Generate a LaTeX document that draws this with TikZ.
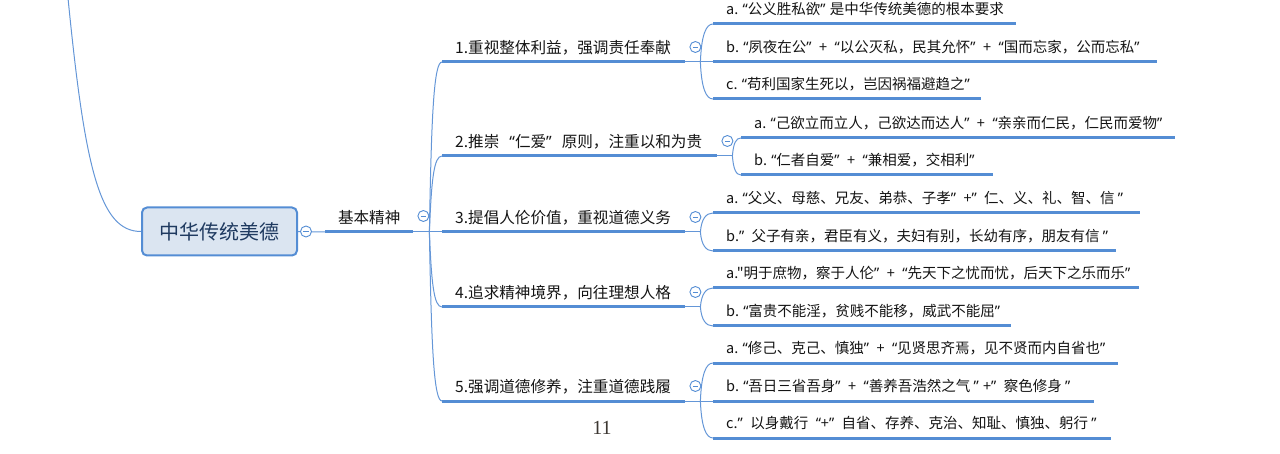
\documentclass[tikz,border=0pt]{standalone}
\usepackage{fontspec}
\usepackage{newunicodechar}
\setmainfont{Noto Sans CJK SC}
\newfontfamily\cjk{Noto Sans CJK SC}
\newfontfamily\latq{Noto Sans}
\newfontfamily\pgnum{Liberation Serif}
\def\qwid{0.65em}
\newunicodechar{“}{\makebox[\qwid][r]{\latq\char"201C}}
\newunicodechar{”}{\makebox[\qwid][l]{\latq\char"201D}}
\usetikzlibrary{calc}
\definecolor{lineblue}{RGB}{84,141,212}
\definecolor{connblue}{RGB}{100,150,215}
\definecolor{rootfill}{RGB}{219,229,241}
\definecolor{rootblue}{RGB}{31,58,96}
\definecolor{txt}{RGB}{20,20,20}
\newcommand\tp[2]{\makebox[#1][l]{\hspace*{13pt}#2}}
\tikzset{
  topic/.style={anchor=south west, inner sep=0pt, minimum height=29pt, text=txt,
    font=\cjk\fontsize{14.5pt}{18pt}\selectfont},
  topicB/.style={topic, font=\cjk\fontsize{15.6pt}{18pt}\selectfont\def\qwid{1em}},
  ul/.style={line width=3pt, draw=lineblue},
  conn/.style={line width=1pt, draw=connblue},
  collapse/.style={circle, draw=lineblue, fill=white, line width=0.9pt, minimum size=11pt, inner sep=0pt,
    path picture={\draw[lineblue, line width=0.9pt] ([xshift=-2.6pt]path picture bounding box.center) -- ([xshift=2.6pt]path picture bounding box.center);}},
  rootbox/.style={draw=lineblue, line width=2pt, fill=rootfill, rounded corners=5pt,
    minimum width=155pt, minimum height=48pt, inner sep=0pt, text=rootblue,
    font=\cjk\fontsize{20pt}{24pt}\selectfont}
}
\begin{document}
\begin{tikzpicture}[x=1pt,y=-1pt]
\useasboundingbox (0,0) rectangle (1280,454);
% root
\node[rootbox] (root) at (219.5,231.5) {中华传统美德};
\coordinate (top) at (68,-2);
\draw[conn] (top) .. controls (85,170) and (100,231.5) .. (root.west);
% level 1
\node[topicB] (jb) at (325,232) {\makebox[88pt][c]{基本精神}};
% level 2
\node[topicB] (b1) at (442,62)  {\tp{243pt}{1.重视整体利益，强调责任奉献}};
\node[topicB] (b2) at (442,156) {\tp{275pt}{2.推崇“仁爱”原则，注重以和为贵}};
\node[topicB] (b3) at (442,232) {\tp{243pt}{3.提倡人伦价值，重视道德义务}};
\node[topicB] (b4) at (442,307) {\tp{243pt}{4.追求精神境界，向往理想人格}};
\node[topicB] (b5) at (442,401) {\tp{243pt}{5.强调道德修养，注重道德践履}};
% level 3
\node[topic] (c1a) at (713,24)  {\tp{303pt}{a.“公义胜私欲”是中华传统美德的根本要求}};
\node[topic] (c1b) at (713,62)  {\tp{444pt}{b.“夙夜在公” + “以公灭私，民其允怀” + “国而忘家，公而忘私”}};
\node[topic] (c1c) at (713,99)  {\tp{268pt}{c.“苟利国家生死以，岂因祸福避趋之”}};
\node[topic] (c2a) at (741,138) {\tp{434pt}{a.“己欲立而立人，己欲达而达人” + “亲亲而仁民，仁民而爱物”}};
\node[topic] (c2b) at (741,175) {\tp{252pt}{b.“仁者自爱” + “兼相爱，交相利”}};
\node[topic] (c3a) at (713,213) {\tp{427pt}{a.“父义、母慈、兄友、弟恭、子孝” +” 仁、义、礼、智、信 ”}};
\node[topic] (c3b) at (713,251) {\tp{403pt}{b.” 父子有亲，君臣有义，夫妇有别，长幼有序，朋友有信 ”}};
\node[topic] (c4a) at (713,288) {\tp{426pt}{a."明于庶物，察于人伦” + “先天下之忧而忧，后天下之乐而乐”}};
\node[topic] (c4b) at (713,326) {\tp{298pt}{b.“富贵不能淫，贫贱不能移，威武不能屈”}};
\node[topic] (c5a) at (713,363) {\tp{405pt}{a.“修己、克己、慎独” + “见贤思齐焉，见不贤而内自省也”}};
\node[topic] (c5b) at (713,401) {\tp{381pt}{b.“吾日三省吾身” + “善养吾浩然之气 ”+” 察色修身 ”}};
\node[topic] (c5c) at (713,438) {\tp{398pt}{c.” 以身戴行 “+” 自省、存养、克治、知耻、慎独、躬行 ”}};
% underlines
\foreach \n in {jb,b1,b2,b3,b4,b5,c1a,c1b,c1c,c2a,c2b,c3a,c3b,c4a,c4b,c5a,c5b,c5c}
  \draw[ul] (\n.south west) -- (\n.south east);
% connectors root -> level1
\draw[conn] (root.east) -- (jb.south west);
\coordinate (sp) at ($(jb.south east)+(16,0)$);
\draw[conn] (jb.south east) -- (sp);
\draw[conn] (sp) .. controls +(2,-119) and +(-8,0) .. (b1.south west);
\draw[conn] (sp) .. controls +(2,-53) and +(-8,0) .. (b2.south west);
\draw[conn] (sp) -- (b3.south west);
\draw[conn] (sp) .. controls +(2,52) and +(-8,0) .. (b4.south west);
\draw[conn] (sp) .. controls +(2,118) and +(-8,0) .. (b5.south west);
% group 1
\coordinate (g1) at ($(b1.south east)+(15,0)$);
\draw[conn] (b1.south east) -- (g1);
\draw[conn] (g1) .. controls +(1,-27) and +(-7,0) .. (c1a.south west);
\draw[conn] (g1) -- (c1b.south west);
\draw[conn] (g1) .. controls +(1,26) and +(-7,0) .. (c1c.south west);
% group 2
\coordinate (g2) at ($(b2.south east)+(15,0)$);
\draw[conn] (b2.south east) -- (g2);
\draw[conn] (g2) .. controls +(1,-13) and +(-5,0) .. (c2a.south west);
\draw[conn] (g2) .. controls +(1,13) and +(-5,0) .. (c2b.south west);
% group 3
\coordinate (g3) at ($(b3.south east)+(15,0)$);
\draw[conn] (b3.south east) -- (g3);
\draw[conn] (g3) .. controls +(1,-13) and +(-7,0) .. (c3a.south west);
\draw[conn] (g3) .. controls +(1,13) and +(-7,0) .. (c3b.south west);
% group 4
\coordinate (g4) at ($(b4.south east)+(15,0)$);
\draw[conn] (b4.south east) -- (g4);
\draw[conn] (g4) .. controls +(1,-13) and +(-7,0) .. (c4a.south west);
\draw[conn] (g4) .. controls +(1,13) and +(-7,0) .. (c4b.south west);
% group 5
\coordinate (g5) at ($(b5.south east)+(15,0)$);
\draw[conn] (b5.south east) -- (g5);
\draw[conn] (g5) .. controls +(1,-27) and +(-7,0) .. (c5a.south west);
\draw[conn] (g5) -- (c5b.south west);
\draw[conn] (g5) .. controls +(1,26) and +(-7,0) .. (c5c.south west);
% collapse buttons
\node[collapse] (k0) at ($(root.east)+(8,0)$) {};
\node[collapse] (k1) at ($(jb.south east)+(10,-16)$) {};
\foreach \n in {b1,b2,b3,b4,b5}
  \node[collapse] (k\n) at ($(\n.south east)+(10,-15)$) {};
% page number
\node[font=\pgnum\fontsize{20pt}{24pt}\selectfont, text={rgb,255:red,60;green,55;blue,50}] (pg) at (602,428) {11};
\end{tikzpicture}
\end{document}
